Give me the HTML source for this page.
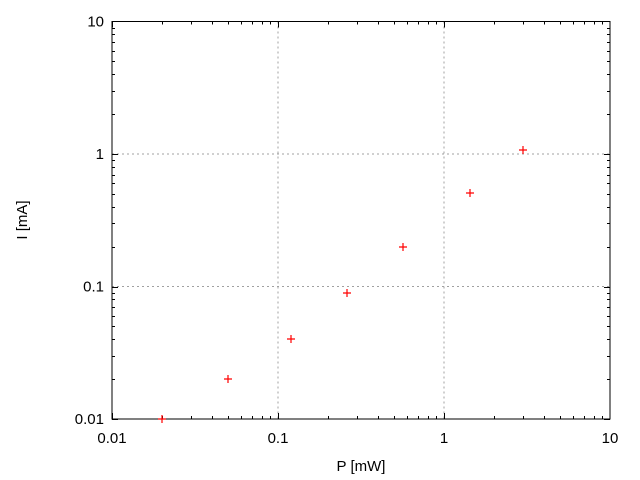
<!DOCTYPE html>
<html><head><meta charset="utf-8"><style>body{margin:0;background:#fff}svg{display:block}text{font-family:"Liberation Sans",sans-serif;font-size:15px;fill:#000}</style></head>
<body>
<svg id="s" width="640" height="480" xmlns="http://www.w3.org/2000/svg"></svg>
<script>
var s=document.getElementById('s'),h='';
var X0=112,X1=610,Y0=419,Y1=21.5;
function fx(v){return X0+(Math.log10(v)+2)*(X1-X0)/3;}
function fy(v){return Y0-(Math.log10(v)+2)*(Y0-Y1)/3;}
// grid
[0.1,1].forEach(function(v){var x=fx(v);h+='<line x1="'+x+'" y1="'+Y1+'" x2="'+x+'" y2="'+Y0+'" stroke="#a0a0a0" stroke-dasharray="2,3"/>';
var y=fy(v);h+='<line x1="'+X0+'" y1="'+y+'" x2="'+X1+'" y2="'+y+'" stroke="#a0a0a0" stroke-dasharray="2,3"/>';});
// ticks
for(var d=-2;d<1;d++){for(var k=1;k<10;k++){var v=k*Math.pow(10,d),L=k==1?6:3;
var x=Math.round(fx(v))+0.5,y=Math.round(fy(v))+0.5;
h+='<line x1="'+x+'" y1="'+Y0+'" x2="'+x+'" y2="'+(Y0-L)+'" stroke="#000"/>';
h+='<line x1="'+x+'" y1="'+Y1+'" x2="'+x+'" y2="'+(Y1+L)+'" stroke="#000"/>';
h+='<line x1="'+X0+'" y1="'+y+'" x2="'+(X0+L)+'" y2="'+y+'" stroke="#000"/>';
h+='<line x1="'+X1+'" y1="'+y+'" x2="'+(X1-L)+'" y2="'+y+'" stroke="#000"/>';}}
h+='<rect x="'+X0+'" y="'+Y1+'" width="'+(X1-X0)+'" height="'+(Y0-Y1)+'" fill="none" stroke="#000"/>';
var lb=['0.01','0.1','1','10'];
lb.forEach(function(t,i){var v=Math.pow(10,i-2);
h+='<text x="'+fx(v)+'" y="443" text-anchor="middle">'+t+'</text>';
h+='<text x="'+(X0-8)+'" y="'+(fy(v)+5)+'" text-anchor="end">'+t+'</text>';});
h+='<text x="361" y="471" text-anchor="middle">P [mW]</text>';
h+='<text transform="translate(27,220) rotate(-90)" text-anchor="middle">I [mA]</text>';
[[162,419],[228,379],[291,339],[347,293],[403,247],[470,193],[523,150]].forEach(function(p){
h+='<path d="M'+(p[0]-4)+' '+p[1]+'h8M'+p[0]+' '+(p[1]-4)+'v8" stroke="#f00" stroke-width="1.2"/>';});
s.innerHTML=h;
</script>
</body></html>
